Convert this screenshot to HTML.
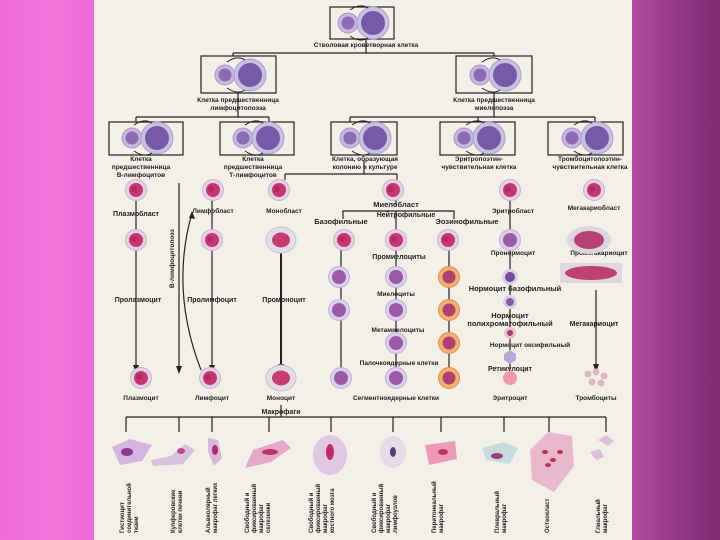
<!DOCTYPE html>
<html><head><meta charset="utf-8"><style>
html,body{margin:0;padding:0;width:720px;height:540px;overflow:hidden}
body{background:linear-gradient(90deg,#f06ad8 0%,#f277dc 8%,#ee66d6 13%,#b04a9e 88%,#9a3a8c 93%,#7c2c70 100%)}
svg{position:absolute;left:0;top:0}
text{font-family:"Liberation Sans",sans-serif;font-weight:bold;fill:#222}
</style></head><body>
<svg width="720" height="540" viewBox="0 0 720 540">
<defs>
<g id="pc"><circle r="10.5" fill="#e4d3e6" stroke="#c9b2cf" stroke-width="1"/><circle r="7" fill="#c83672"/><circle cx="-2" cy="-1" r="3" fill="#a82058" opacity=".6"/></g>
<g id="pcb"><ellipse rx="15" ry="13" fill="#e2dde6" stroke="#c8c0cc"/><ellipse rx="9" ry="7.5" fill="#c93a6e"/></g>
<g id="vc"><circle r="10.5" fill="#dcd0ea" stroke="#c0b0d8"/><circle r="7" fill="#9a5aa8"/></g>
<g id="oc"><circle r="10.5" fill="#f0b070" stroke="#e09050"/><circle r="6.5" fill="#b04070"/></g>
<g id="pair"><circle cx="-14" cy="0" r="10" fill="#c6b6e0" stroke="#a898c8"/><circle cx="-14" cy="0" r="6.5" fill="#8e6ab4"/>
<circle cx="11" cy="0" r="16" fill="#c8c2e2" stroke="#a8a0cc"/><circle cx="11" cy="0" r="12" fill="#7858a8"/>
<path d="M-12-13 Q-2-20 6-15 M6 15 Q-2 20 -12 13" fill="none" stroke="#222" stroke-width="1"/></g>
</defs>
<rect x="94" y="0" width="538" height="540" fill="#f3f0e8"/>
<g stroke="#222" stroke-width="1.2" fill="none">
<rect x="330" y="7" width="64" height="32"/>
<rect x="201" y="56" width="75" height="37"/><rect x="456" y="56" width="76" height="37"/>
<rect x="109" y="122" width="74" height="33"/><rect x="220" y="122" width="74" height="33"/><rect x="331" y="122" width="66" height="33"/><rect x="440" y="122" width="75" height="33"/><rect x="548" y="122" width="75" height="33"/>
<path d="M366 39V53M233 53H494M233 53V56M494 53V56M238 93V117M136 117H269M136 117V122M269 117V122M494 93V117M350 117H595M350 117V122M595 117V122M478 117V122"/>
<path d="M285 174H397M285 174V180M397 174V180M364 160V174"/>
<path d="M136 200V370M212 200V370M596 290V370M341 240V375M449 240V375M396 200V205M510 200V370M343 219V211H454V219M396 211V378"/>
<path d="M281 250V370" stroke-width="2"/>
<path d="M179 183V372"/>
<path d="M201 370Q170 290 192 213"/>
<path d="M281 405V417M126 417H606M126 417V432M179 417V432M212 417V432M269 417V432M331 417V432M393 417V432M441 417V432M504 417V432M549 417V432M606 417V432"/>
</g>
<g fill="#222"><path d="M133 365L136 373L139 365Z"/><path d="M209 365L212 373L215 365Z"/><path d="M278 364L281 373L284 364Z"/><path d="M593 364L596 373L599 364Z"/><path d="M176 366L179 374L182 366Z"/><path d="M189 218L192 211L195 219Z"/></g>
<use href="#pair" x="362" y="23"/><use href="#pair" x="239" y="75"/><use href="#pair" x="494" y="75"/>
<use href="#pair" x="146" y="138"/><use href="#pair" x="257" y="138"/><use href="#pair" x="364" y="138"/><use href="#pair" x="478" y="138"/><use href="#pair" x="586" y="138"/>
<g font-size="6.5" text-anchor="middle">
<text x="366" y="47">Стволовая кроветворная клетка</text>
<text x="238" y="102">Клетка предшественница</text><text x="238" y="110">лимфоцитопоэза</text>
<text x="494" y="102">Клетка предшественница</text><text x="494" y="110">миелопоэза</text>
<text x="141" y="161">Клетка</text><text x="141" y="169">предшественница</text><text x="141" y="177">В-лимфоцитов</text>
<text x="253" y="161">Клетка</text><text x="253" y="169">предшественница</text><text x="253" y="177">Т-лимфоцитов</text>
<text x="365" y="161">Клетка, образующая</text><text x="365" y="169">колонию в культуре</text>
<text x="479" y="161">Эритропоэтин-</text><text x="479" y="169">чувствительная клетка</text>
<text x="590" y="161">Тромбоцитопоэтин-</text><text x="590" y="169">чувствительная клетка</text>
<text x="136" y="216" font-size="7">Плазмобласт</text><text x="213" y="213">Лимфобласт</text><text x="284" y="213">Монобласт</text>
<text x="396" y="207" font-size="7.5">Миелобласт</text><text x="406" y="217" font-size="7">Нейтрофильные</text>
<text x="341" y="224" font-size="7.5">Базофильные</text><text x="467" y="224" font-size="7.5">Эозинофильные</text>
<text x="513" y="213">Эритробласт</text><text x="594" y="210">Мегакариобласт</text>
<text x="399" y="259" font-size="7">Промиелоциты</text><text x="513" y="255">Пронормоцит</text><text x="599" y="255">Промегакариоцит</text>
<text x="138" y="302" font-size="7">Пролазмоцит</text><text x="212" y="302" font-size="7">Пролимфоцит</text><text x="284" y="302" font-size="7">Промоноцит</text>
<text x="396" y="296">Миелоциты</text><text x="515" y="291" font-size="7.5">Нормоцит базофильный</text>
<text x="510" y="318" font-size="7.5">Нормоцит</text><text x="510" y="326" font-size="7.5">полихроматофильный</text><text x="594" y="326" font-size="7">Мегакариоцит</text>
<text x="398" y="332">Метамиелоциты</text><text x="530" y="347">Нормоцит оксифильный</text>
<text x="399" y="365">Палочкоядерные клетки</text><text x="510" y="371" font-size="7">Ретикулоцит</text>
<text x="141" y="400">Плазмоцит</text><text x="212" y="400">Лимфоцит</text><text x="281" y="400">Моноцит</text><text x="396" y="400">Сегментноядерные клетки</text><text x="510" y="400">Эритроцит</text><text x="596" y="400">Тромбоциты</text>
<text x="281" y="414" font-size="7">Макрофаги</text>
</g>
<text font-size="6.5" transform="translate(174 288) rotate(-90)">В-лимфоцитопоэз</text>
<use href="#pc" x="136" y="190"/><use href="#pc" x="213" y="190"/><use href="#pc" x="279" y="190"/><use href="#pc" x="393" y="190"/><use href="#pc" x="510" y="190"/><use href="#pc" x="594" y="190"/>
<use href="#pc" x="136" y="240"/><use href="#pc" x="212" y="240"/><use href="#pcb" x="281" y="240"/><use href="#pc" x="344" y="240"/><use href="#pc" x="396" y="240"/><use href="#pc" x="448" y="240"/><use href="#vc" x="510" y="240"/>
<ellipse cx="589" cy="240" rx="22" ry="14" fill="#dcd6e2"/><ellipse cx="589" cy="240" rx="15" ry="9" fill="#b84070"/>
<use href="#vc" x="339" y="277"/><use href="#vc" x="396" y="277"/><use href="#oc" x="449" y="277"/>
<circle cx="510" cy="277" r="8" fill="#d8d0ea"/><circle cx="510" cy="277" r="5" fill="#7a4a9a"/>
<rect x="560" y="263" width="62" height="20" fill="#e0d8e0"/><ellipse cx="591" cy="273" rx="26" ry="7" fill="#c0406e"/>
<use href="#vc" x="339" y="310"/><use href="#vc" x="396" y="310"/><use href="#oc" x="449" y="310"/>
<circle cx="510" cy="302" r="7" fill="#d8d0ea"/><circle cx="510" cy="302" r="4" fill="#8a5aa0"/>
<use href="#vc" x="396" y="343"/><use href="#oc" x="449" y="343"/>
<circle cx="510" cy="333" r="6" fill="#f0c0c8"/><circle cx="510" cy="333" r="3" fill="#a04070"/>
<path d="M510 350l6 4v6l-6 4-6-4v-6z" fill="#b8a8d8"/>
<use href="#pc" x="141" y="378"/><use href="#pc" x="210" y="378"/><use href="#pcb" x="281" y="378"/><use href="#vc" x="341" y="378"/><use href="#vc" x="396" y="378"/><use href="#oc" x="449" y="378"/>
<circle cx="510" cy="378" r="7" fill="#f09aa8"/>
<g fill="#e0b4c0"><circle cx="588" cy="374" r="3.5"/><circle cx="596" cy="372" r="3.5"/><circle cx="604" cy="376" r="3.5"/><circle cx="592" cy="382" r="3.5"/><circle cx="601" cy="383" r="3.5"/></g>
<g>
<path d="M112 447l18-8 22 6-10 16-22 4z" fill="#d6b4e0"/><ellipse cx="127" cy="452" rx="6" ry="4" fill="#8c3a8c"/>
<path d="M151 460l20-4 14-12 10 6-12 14-30 2z" fill="#d8c0e0"/><ellipse cx="181" cy="451" rx="4" ry="3" fill="#c04a80"/>
<path d="M208 438l10 2 4 18-8 8-6-14z" fill="#d8b8dc"/><ellipse cx="215" cy="450" rx="3" ry="5" fill="#b02a6a"/>
<path d="M245 468l8-18 30-10 8 8-20 14z" fill="#e6a8c8"/><ellipse cx="270" cy="452" rx="8" ry="3" fill="#c0306a"/>
<ellipse cx="330" cy="455" rx="17" ry="20" fill="#e0c8e4"/><ellipse cx="330" cy="452" rx="4" ry="8" fill="#c02a68"/>
<ellipse cx="393" cy="452" rx="13" ry="16" fill="#e4dce8"/><ellipse cx="393" cy="452" rx="3" ry="5" fill="#5a3a7a"/>
<path d="M425 445l30-4 2 18-28 6z" fill="#ec9ab8"/><ellipse cx="443" cy="452" rx="5" ry="3" fill="#c0306a"/>
<path d="M482 448l22-6 14 6-8 16-24-4z" fill="#c8dce0"/><ellipse cx="497" cy="456" rx="6" ry="3" fill="#a03a7a"/>
<path d="M530 450l18-18 24 4 2 30-20 26-22-12z" fill="#e8b8cc"/><g fill="#c03050"><ellipse cx="545" cy="452" rx="3" ry="2"/><ellipse cx="553" cy="460" rx="3" ry="2"/><ellipse cx="560" cy="452" rx="3" ry="2"/><ellipse cx="548" cy="465" rx="3" ry="2"/></g>
<path d="M598 440l8-5 8 6-6 5zM590 452l10-3 4 8-8 3z" fill="#dcc0d8"/>
</g>
<g font-size="6" font-weight="bold">
<text transform="translate(124 533) rotate(-90)">Гистиоцит</text><text transform="translate(131 533) rotate(-90)">соединительной</text><text transform="translate(138 533) rotate(-90)">ткани</text>
<text transform="translate(175 533) rotate(-90)">Купферовские</text><text transform="translate(182 533) rotate(-90)">клетки печени</text>
<text transform="translate(210 533) rotate(-90)">Альвеолярный</text><text transform="translate(217 533) rotate(-90)">макрофаг легких</text>
<text transform="translate(249 533) rotate(-90)">Свободный и</text><text transform="translate(256 533) rotate(-90)">фиксированный</text><text transform="translate(263 533) rotate(-90)">макрофаг</text><text transform="translate(270 533) rotate(-90)">селезенки</text>
<text transform="translate(313 533) rotate(-90)">Свободный и</text><text transform="translate(320 533) rotate(-90)">фиксированный</text><text transform="translate(327 533) rotate(-90)">макрофаг</text><text transform="translate(334 533) rotate(-90)">костного мозга</text>
<text transform="translate(376 533) rotate(-90)">Свободный и</text><text transform="translate(383 533) rotate(-90)">фиксированный</text><text transform="translate(390 533) rotate(-90)">макрофаг</text><text transform="translate(397 533) rotate(-90)">лимфоузлов</text>
<text transform="translate(436 533) rotate(-90)">Перитонеальный</text><text transform="translate(443 533) rotate(-90)">макрофаг</text>
<text transform="translate(499 533) rotate(-90)">Плевральный</text><text transform="translate(506 533) rotate(-90)">макрофаг</text>
<text transform="translate(549 533) rotate(-90)">Остеокласт</text>
<text transform="translate(600 533) rotate(-90)">Глиальный</text><text transform="translate(607 533) rotate(-90)">макрофаг</text>
</g>
</svg>
</body></html>
